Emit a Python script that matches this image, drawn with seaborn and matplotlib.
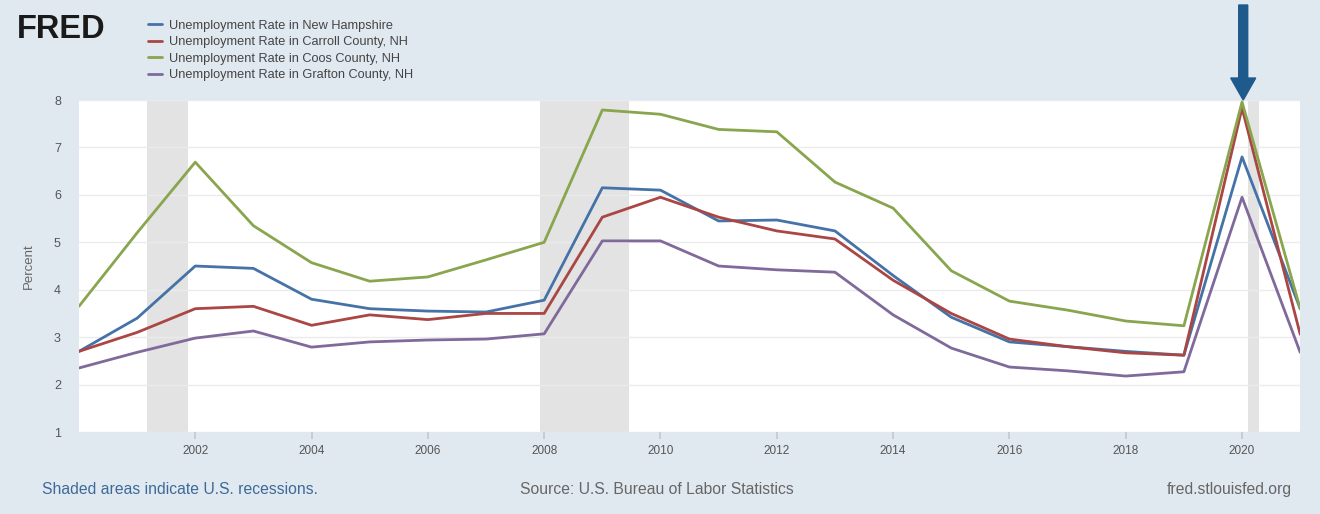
import numpy as np
import pandas as pd
import matplotlib
matplotlib.use("Agg")
import matplotlib.pyplot as plt
import matplotlib.patches as mpatches
from matplotlib.transforms import IdentityTransform
import seaborn as sns

years = list(range(2000, 2022))
nh = [2.7, 3.4, 4.5, 4.45, 3.8, 3.6, 3.55, 3.53, 3.78, 6.15, 6.1, 5.45, 5.47, 5.24, 4.3, 3.42, 2.9, 2.8, 2.7, 2.62, 6.8, 3.6]
carroll = [2.7, 3.1, 3.6, 3.65, 3.25, 3.47, 3.37, 3.5, 3.5, 5.53, 5.95, 5.53, 5.24, 5.07, 4.2, 3.5, 2.96, 2.8, 2.67, 2.62, 7.83, 3.06]
coos = [3.65, 5.2, 6.69, 5.35, 4.57, 4.18, 4.27, 4.63, 5.0, 7.79, 7.7, 7.38, 7.33, 6.27, 5.72, 4.4, 3.76, 3.57, 3.34, 3.24, 7.96, 3.6]
grafton = [2.35, 2.68, 2.98, 3.13, 2.79, 2.9, 2.94, 2.96, 3.07, 5.03, 5.03, 4.5, 4.42, 4.37, 3.47, 2.77, 2.37, 2.29, 2.18, 2.27, 5.95, 2.68]

series_names = ["Unemployment Rate in New Hampshire",
                "Unemployment Rate in Carroll County, NH",
                "Unemployment Rate in Coos County, NH",
                "Unemployment Rate in Grafton County, NH"]
series_colors = ["#4572a7", "#aa4643", "#89a54e", "#80699b"]
recessions = [(2001.17, 2001.87), (2007.92, 2009.45), (2020.1, 2020.3)]
x_ticks = list(range(2002, 2021, 2))
y_ticks = list(range(1, 9))

rows = []
for name, vals in zip(series_names, [nh, carroll, coos, grafton]):
    for y, v in zip(years, vals):
        rows.append({"year": y, "value": v, "series": name})
df = pd.DataFrame(rows)

sns.set_theme(style="white")
plt.rcParams['font.family'] = ['Liberation Sans', 'DejaVu Sans']

bg = "#e1e9f0"
fig = plt.figure(figsize=(13.2, 5.14), dpi=100, facecolor=bg)
ax = fig.add_axes([0.0598, 0.1595, 0.9252, 0.6459])
ax.set_facecolor("white")

for a, b in recessions:
    ax.axvspan(a, b, color="#e3e3e3", lw=0, zorder=0)

sns.lineplot(data=df, x="year", y="value", hue="series", hue_order=series_names,
             palette=series_colors, linewidth=2, ax=ax, legend=False, zorder=3)

ax.set_xlim(2000, 2021)
ax.set_ylim(1, 8)
ax.set_yticks(y_ticks)
ax.set_xticks(x_ticks)
ax.set_xticklabels([str(t) for t in x_ticks], fontsize=8.5, color="#555555")
ax.set_yticklabels([str(t) for t in y_ticks], fontsize=9, color="#555555")
ax.grid(axis="y", color="#ebebeb", lw=1)
ax.grid(axis="x", visible=False)
for s in ax.spines.values():
    s.set_visible(False)
ax.tick_params(axis="y", length=0, pad=13)
ax.tick_params(axis="x", length=5, color="#c8c8c8", pad=4, direction="out", bottom=True)
ax.set_xlabel("")
ax.set_ylabel("Percent", fontsize=9.5, color="#666666")
ax.yaxis.set_label_coords(-0.036, 0.5)

# Legend
from matplotlib.lines import Line2D
handles = [Line2D([], [], color=c, lw=2) for c in series_colors]
leg = fig.legend(handles, series_names, loc="upper left", bbox_to_anchor=(0.108, 0.972),
                 frameon=False, fontsize=9.2, handlelength=1.15, handletextpad=0.55,
                 labelspacing=0.36, borderaxespad=0)
for t in leg.get_texts():
    t.set_color("#444444")

fig.text(0.013, 0.942, "FRED", fontsize=23.5, fontweight="bold", color="#1a1a1a",
         va="center", ha="left")

fig.text(0.032, 0.047, "Shaded areas indicate U.S. recessions.", fontsize=11.3,
         color="#3d6a99", va="center")
fig.text(0.394, 0.047, "Source: U.S. Bureau of Labor Statistics", fontsize=11.3,
         color="#666666", va="center")
fig.text(0.979, 0.047, "fred.stlouisfed.org", fontsize=11.3, color="#666666",
         va="center", ha="right")

# Arrow pointing at the 2020 peak (drawn in pixel space)
fig.canvas.draw()
tip_x, tip_y = ax.transData.transform((2020.02, 8.0))
top_y = fig.bbox.height - 5
arrow = mpatches.FancyArrow(tip_x, top_y, 0, tip_y - top_y, width=9, head_width=25,
                            head_length=22, length_includes_head=True,
                            color="#1f5a8c", transform=IdentityTransform(),
                            clip_on=False)
fig.patches.append(arrow)

fig.savefig("out.png", dpi=100, facecolor=bg)
